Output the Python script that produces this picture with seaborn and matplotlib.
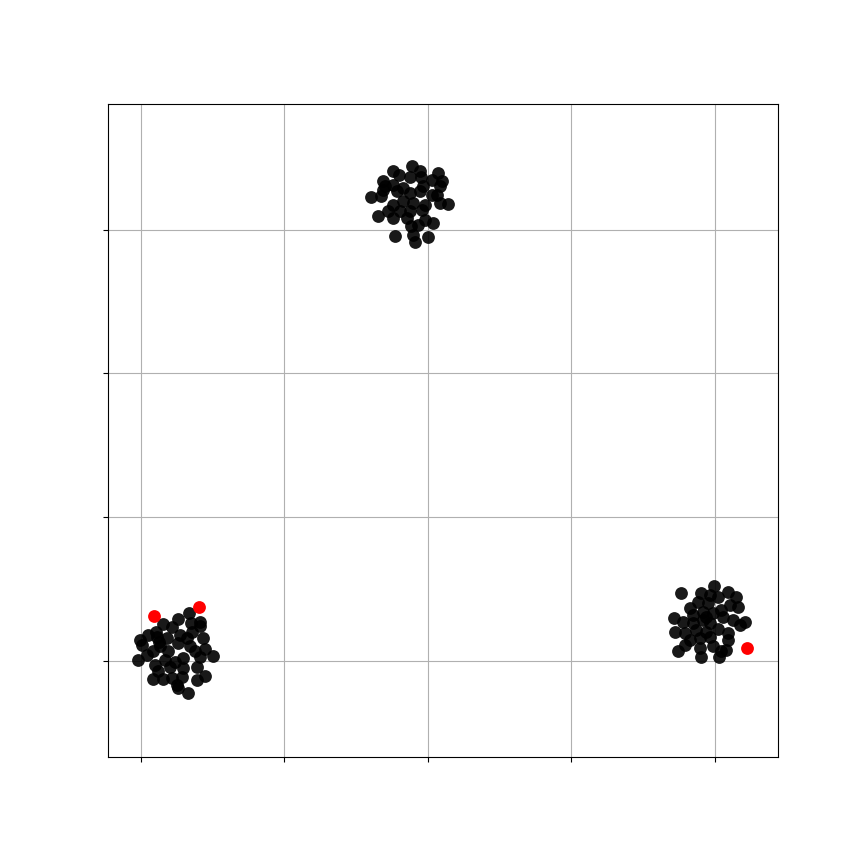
import numpy as np
import pandas as pd
import matplotlib
matplotlib.use('Agg')
import matplotlib.pyplot as plt
import seaborn as sns

# cluster points (black)
x_black = [
    # cluster near (0.25, 0.05)
    0.337, 0.260, 0.155, 0.218, 0.348, 0.411, 0.411, 0.105, 0.051, -0.007,
    0.005, 0.128, 0.179, 0.272, 0.318, 0.434, 0.260, 0.190, 0.086, 0.132,
    0.341, 0.376, 0.446, 0.504, 0.411, 0.295, 0.237, 0.098, -0.019, 0.040,
    0.167, 0.202, 0.295, 0.388, 0.446, 0.388, 0.284, 0.214, 0.155, 0.082,
    0.121, 0.249, 0.260, 0.330, 0.109, 0.353,
    # cluster near (1.87, 3.2)
    1.758, 1.893, 1.944, 1.800, 1.875, 1.951, 1.688, 2.026, 2.102, 1.758,
    1.700, 1.828, 1.967, 2.084, 1.603, 1.677, 1.782, 1.875, 1.944, 2.026,
    2.141, 2.084, 1.758, 1.828, 1.898, 1.979, 1.723, 1.805, 1.875, 1.956,
    1.654, 1.758, 1.852, 1.979, 2.037, 1.886, 1.932, 1.770, 1.898, 1.909,
    2.002, 2.072, 2.061, 1.688,
    # cluster near (3.95, 0.27)
    3.763, 3.907, 3.995, 4.093, 4.151, 3.965, 4.023, 3.884, 3.953, 4.105,
    4.162, 3.829, 3.918, 4.047, 3.849, 3.988, 4.058, 4.128, 4.209, 3.714,
    3.779, 3.849, 3.918, 3.965, 3.721, 3.791, 3.872, 3.942, 4.023, 4.093,
    4.174, 3.826, 3.895, 3.965, 4.093, 3.791, 3.744, 3.895, 4.047, 4.082,
    3.907, 4.030, 3.988, 3.942,
]
y_black = [
    0.336, 0.290, 0.257, 0.232, 0.262, 0.273, 0.244, 0.204, 0.181, 0.146,
    0.111, 0.134, 0.158, 0.181, 0.158, 0.158, 0.123, 0.065, 0.065, 0.100,
    0.100, 0.065, 0.081, 0.037, 0.030, 0.019, -0.005, -0.028, 0.007, 0.042,
    0.007, -0.040, -0.051, -0.040, -0.104, -0.132, -0.109, -0.120, -0.127, -0.127,
    -0.074, -0.167, -0.190, -0.221, 0.169, 0.204,
    3.410, 3.440, 3.405, 3.377, 3.363, 3.363, 3.340, 3.347, 3.340, 3.312,
    3.301, 3.289, 3.301, 3.301, 3.224, 3.231, 3.271, 3.255, 3.266, 3.243,
    3.178, 3.185, 3.173, 3.196, 3.185, 3.173, 3.127, 3.127, 3.127, 3.139,
    3.092, 3.081, 3.081, 3.069, 3.046, 3.022, 3.034, 2.953, 2.964, 2.914,
    2.946, 3.394, 3.243, 3.278,
    0.471, 0.475, 0.524, 0.482, 0.443, 0.459, 0.447, 0.406, 0.402, 0.390,
    0.378, 0.367, 0.343, 0.355, 0.320, 0.332, 0.308, 0.285, 0.267, 0.297,
    0.273, 0.262, 0.285, 0.262, 0.204, 0.193, 0.216, 0.204, 0.221, 0.193,
    0.251, 0.146, 0.158, 0.169, 0.146, 0.111, 0.070, 0.088, 0.065, 0.077,
    0.030, 0.026, 0.100, 0.308,
]

# highlighted points (red)
x_red = [0.093, 0.406, 4.225]
y_red = [0.313, 0.378, 0.088]

df_black = pd.DataFrame({'x': x_black, 'y': y_black})
df_red = pd.DataFrame({'x': x_red, 'y': y_red})

fig = plt.figure(figsize=(8.64, 8.64), dpi=100)
ax = fig.add_axes([0.125, 0.124, 0.775, 0.756])

sns.scatterplot(data=df_black, x='x', y='y', color='black', alpha=0.9,
                s=85, linewidth=0, ax=ax, zorder=3)
sns.scatterplot(data=df_red, x='x', y='y', color='red', alpha=1.0,
                s=85, linewidth=0, ax=ax, zorder=4)

ax.set_xlim(-0.23, 4.439)
ax.set_ylim(-0.668, 3.876)
ax.set_xticks([0, 1, 2, 3, 4])
ax.set_yticks([0, 1, 2, 3])
ax.set_xticklabels([])
ax.set_yticklabels([])
ax.set_xlabel('')
ax.set_ylabel('')
ax.grid(True, color='#b0b0b0', linewidth=0.8)
ax.set_axisbelow(True)

fig.savefig('out.png', dpi=100)
